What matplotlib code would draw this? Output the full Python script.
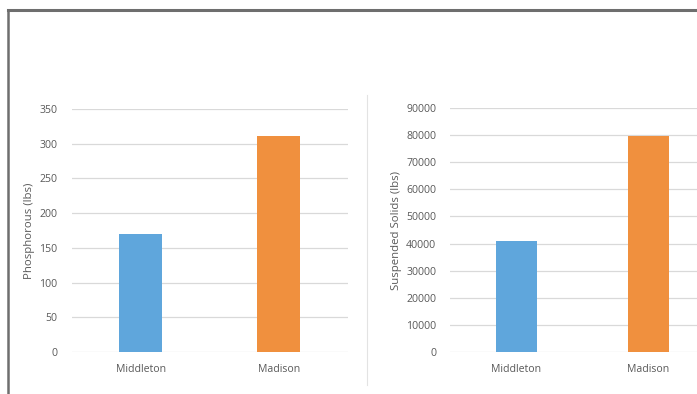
import matplotlib.pyplot as plt
from matplotlib.lines import Line2D

towns = ["Middleton", "Madison"]
phosphorous = [170, 311]
solids = [41000, 79500]
bar_colors = ["#5fa6dc", "#f0903e"]

plt.rcParams['font.family'] = ['Open Sans', 'DejaVu Sans']
text_gray = "#595959"
grid_gray = "#d9d9d9"

W, H = 697, 394
fig = plt.figure(figsize=(W / 100, H / 100), dpi=100)


def make_axes(x0, x1, y0, y1):
    return fig.add_axes([x0 / W, 1 - y1 / H, (x1 - x0) / W, (y1 - y0) / H])


def style(ax, ymax, step, label, labelpad):
    ax.set_xlim(-0.5, 1.5)
    ax.set_ylim(0, ymax)
    ax.set_yticks(range(0, ymax + 1, step))
    ax.set_xticks([0, 1])
    ax.set_xticklabels(towns)
    for s in ax.spines.values():
        s.set_visible(False)
    ax.yaxis.grid(True, color=grid_gray, linewidth=0.9)
    ax.set_axisbelow(True)
    ax.tick_params(length=0, labelsize=7.6, colors=text_gray)
    ax.tick_params(axis='y', pad=10)
    ax.tick_params(axis='x', pad=9)
    ax.set_ylabel(label, fontsize=8.2, color=text_gray, labelpad=labelpad)


# left chart: phosphorous
ax1 = make_axes(71.5, 348, 109, 352)
ax1.bar(range(2), phosphorous, width=0.31, color=bar_colors)
style(ax1, 350, 50, "Phosphorous (lbs)", 3)

# right chart: suspended solids (runs off the right edge)
ax2 = make_axes(450, 714.5, 108, 352)
ax2.bar(range(2), solids, width=0.31, color=bar_colors)
style(ax2, 90000, 10000, "Suspended Solids (lbs)", 3)

# outer frame and divider between the two charts
fig.add_artist(Line2D([8 / W, 1], [1 - 10 / H, 1 - 10 / H], color="#6e6e6e", linewidth=2.2))
fig.add_artist(Line2D([8 / W, 8 / W], [0, 1 - 10 / H], color="#6e6e6e", linewidth=1.8))
fig.add_artist(Line2D([367 / W, 367 / W], [1 - 95 / H, 1 - 385 / H], color="#e3e3e3", linewidth=0.8))

fig.savefig("out.png", dpi=100)
